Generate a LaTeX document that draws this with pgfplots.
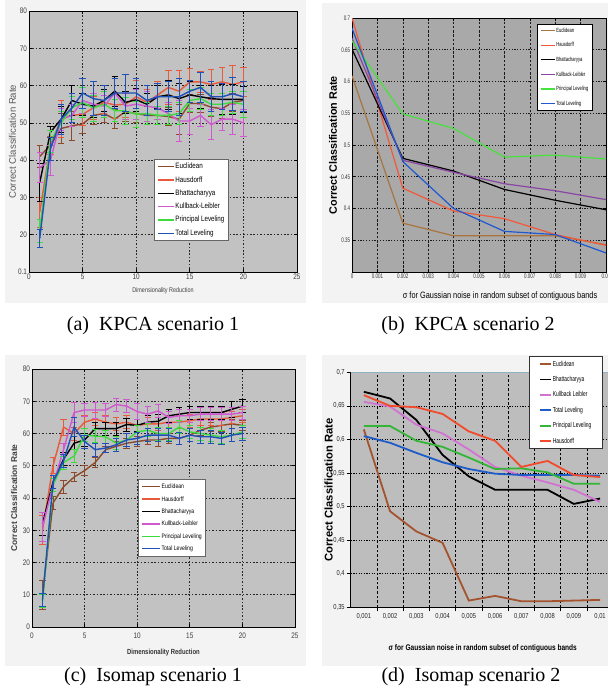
\documentclass[border=0pt]{standalone}
\usepackage{pgfplots}
\pgfplotsset{compat=1.18}
\usepackage{fontspec}
\setmainfont{Liberation Serif}
\setsansfont{Liberation Sans}
\newfontfamily\narrow[FakeStretch=0.8]{Liberation Sans}
\newfontfamily\narrowc[FakeStretch=0.68]{Liberation Sans}

\definecolor{figbg}{HTML}{F3F3F3}
\definecolor{plotA}{HTML}{C2C2C2}
\definecolor{plotB}{HTML}{A9A9A9}
\definecolor{plotD}{HTML}{BDBDBD}
% matlab panels
\definecolor{mEuc}{HTML}{8B4A2B}
\definecolor{mHau}{HTML}{E85A3C}
\definecolor{mKL}{HTML}{D058D0}
\definecolor{mPL}{HTML}{3EDB3E}
\definecolor{mTL}{HTML}{1E50B8}
% panel b
\definecolor{bEuc}{HTML}{A87440}
\definecolor{bHau}{HTML}{F2583A}
\definecolor{bKL}{HTML}{8A46A4}
\definecolor{bPL}{HTML}{46E23E}
\definecolor{bTL}{HTML}{2058D2}
% excel panel
\definecolor{xEuc}{HTML}{A3542E}
\definecolor{xKL}{HTML}{D272D2}
\definecolor{xTL}{HTML}{1F5CC8}
\definecolor{xPL}{HTML}{35B535}
\definecolor{xHau}{HTML}{F24A2C}

\pgfplotsset{
  panel/.style={scale only axis, anchor=south west,
    tick style={black, line width=0.3pt}, major tick length=1.5pt,
    axis line style={black, line width=0.4pt},
    legend cell align=left,
    legend style={draw=black!60, fill=white, inner sep=1.5pt,
      nodes={inner sep=0.4pt, text height=2.8pt, text depth=0.8pt}}},
  leg/.style n args={3}{legend image code/.code={\draw[##1, mark=none] (0pt,0pt) -- (#1,0pt);},
    legend style={at={(axis description cs:#2)}, anchor=north west, #3}},
  eb/.style={error bars/y dir=both, error bars/y explicit,
    error bars/error bar style={line width=0.4pt},
    error bars/error mark options={line width=0.4pt, mark size=1.6pt, rotate=90}},
}

\begin{document}
\begin{tikzpicture}
% light figure backgrounds
\fill[figbg] (2.5pt,194.5pt) rectangle (153pt,346pt);
\fill[figbg] (161pt,194.5pt) rectangle (304pt,344.5pt);
\fill[figbg] (2.5pt,13pt) rectangle (153pt,168.5pt);
\fill[figbg] (161pt,13pt) rectangle (304pt,168.5pt);

% (a) KPCA scenario 1
\begin{axis}[panel, at={(14.5pt,210pt)}, width=134pt, height=130.5pt,
  xmin=0, xmax=25, ymin=10, ymax=80,
  xtick={0,5,10,15,20,25}, xticklabels={0,5,10,15,20,25},
  ytick={10,20,30,40,50,60,70,80}, yticklabels={0.1,20,30,40,50,60,70,80},
  axis background/.style={fill=plotA},
  grid=major, grid style={black!85, line width=0.3pt, dash pattern=on 0.8pt off 0.9pt},
  tick align=inside,
  tick label style={font=\fontsize{4}{4.5}\narrow, text=black!75, inner sep=0.8pt},
  xlabel={Dimensionality Reduction},
  xlabel style={at={(axis description cs:0.5,-0.073)}, anchor=center, font=\fontsize{3.4}{4}\narrow, text=black!75},
  ylabel={Correct Classification Rate},
  ylabel style={at={(axis description cs:-0.062,0.5)}, anchor=center, font=\fontsize{4.8}{5}\sffamily, text=black!65},
  leg={8pt}{0.466,0.433}{font=\fontsize{3.9}{4.2}\narrow, row sep=2.25pt},
]
\addplot[mEuc, line width=0.7pt, eb] coordinates {
  (1,41)+-(0,3) (2,44)+-(0,2) (3,48.5)+-(0,4) (4,49.2)+-(0,4) (5,49.7)+-(0,2.5)
  (6,52)+-(0,2.5) (7,52.5)+-(0,2.5) (8,51)+-(0,2.5) (9,53)+-(0,2.5) (10,52.5)+-(0,2.5)
  (11,52)+-(0,2.5) (12,52)+-(0,2.5) (13,51.7)+-(0,2.5) (14,51)+-(0,4) (15,55.2)+-(0,2.5)
  (16,55.2)+-(0,2.5) (17,54.2)+-(0,2.5) (18,53.8)+-(0,2.5) (19,55.5)+-(0,2.5) (20,56)+-(0,2.5)};
\addlegendentry{Euclidean}
\addplot[mHau, line width=0.7pt, eb] coordinates {
  (1,26)+-(0,4) (2,44)+-(0,2.5) (3,51)+-(0,5) (4,52)+-(0,3) (5,52.3)+-(0,3)
  (6,54)+-(0,3) (7,55.5)+-(0,3) (8,54.8)+-(0,3.5) (9,55)+-(0,3.5) (10,57)+-(0,4.5)
  (11,55.5)+-(0,3.5) (12,57.5)+-(0,3.5) (13,59.5)+-(0,4.5) (14,58.5)+-(0,5.5) (15,61)+-(0,3.5)
  (16,61)+-(0,2.7) (17,60.3)+-(0,4) (18,61)+-(0,4) (19,60.3)+-(0,5) (20,61)+-(0,4)};
\addlegendentry{Hausdorff}
\addplot[black, line width=0.7pt, eb] coordinates {
  (1,34)+-(0,5) (2,47.5)+-(0,1.5) (3,51)+-(0,3.5) (4,56)+-(0,4) (5,55)+-(0,3)
  (6,54.5)+-(0,3) (7,56)+-(0,3) (8,58.5)+-(0,4) (9,55.5)+-(0,3) (10,56.2)+-(0,3)
  (11,55)+-(0,3) (12,57)+-(0,3) (13,57.5)+-(0,4) (14,56.5)+-(0,4) (15,57.5)+-(0,3.5)
  (16,57)+-(0,3) (17,56.5)+-(0,3.5) (18,56.3)+-(0,4) (19,56.3)+-(0,4) (20,56.3)+-(0,3.5)};
\addlegendentry{Bhattacharyya}
\addplot[mKL, line width=0.7pt, eb] coordinates {
  (1,38)+-(0,4) (2,40)+-(0,4) (3,51)+-(0,3) (4,52)+-(0,3) (5,56)+-(0,3.5)
  (6,55)+-(0,3) (7,54.5)+-(0,3) (8,58)+-(0,4) (9,54.5)+-(0,3.5) (10,55)+-(0,4)
  (11,54.5)+-(0,4) (12,54)+-(0,3) (13,52.5)+-(0,3) (14,50.5)+-(0,5.5) (15,50.5)+-(0,3.5)
  (16,52)+-(0,3) (17,49.5)+-(0,4) (18,51)+-(0,3) (19,51)+-(0,4) (20,50)+-(0,3.5)};
\addlegendentry{Kullback-Leibler}
\addplot[mPL, line width=0.7pt, eb] coordinates {
  (1,21)+-(0,3) (2,45)+-(0,3) (3,50)+-(0,3) (4,54)+-(0,3) (5,55.5)+-(0,4)
  (6,54)+-(0,3.5) (7,55)+-(0,3.5) (8,53.3)+-(0,3) (9,53.2)+-(0,3.5) (10,52.3)+-(0,3.5)
  (11,52.5)+-(0,3) (12,52)+-(0,2.5) (13,52)+-(0,2.5) (14,52.5)+-(0,3) (15,56)+-(0,3)
  (16,56.5)+-(0,3) (17,55)+-(0,3) (18,55)+-(0,3) (19,55.5)+-(0,3) (20,55)+-(0,3.5)};
\addlegendentry{Principal Leveling}
\addplot[mTL, line width=0.7pt, eb] coordinates {
  (1,19)+-(0,2.5) (2,43)+-(0,3) (3,51)+-(0,4) (4,54)+-(0,4) (5,58)+-(0,4)
  (6,56.5)+-(0,4.5) (7,56)+-(0,4) (8,58)+-(0,4) (9,58)+-(0,5) (10,58)+-(0,4)
  (11,56)+-(0,4) (12,57)+-(0,3.5) (13,57)+-(0,4) (14,57)+-(0,5) (15,58.5)+-(0,3)
  (16,59.5)+-(0,4) (17,57)+-(0,4) (18,57)+-(0,3.5) (19,57.8)+-(0,4.5) (20,57)+-(0,4)};
\addlegendentry{Total Leveling}
\end{axis}

% (b) KPCA scenario 2
\begin{axis}[panel, at={(176pt,210pt)}, width=127pt, height=127pt,
  xmin=0, xmax=0.01, ymin=0.3, ymax=0.7, scaled x ticks=false, scaled y ticks=false,
  xtick={0,0.001,0.002,0.003,0.004,0.005,0.006,0.007,0.008,0.009,0.01},
  xticklabels={0,0.001,0.002,0.003,0.004,0.005,0.006,0.007,0.008,0.009,0.01},
  ytick={0.35,0.4,0.45,0.5,0.55,0.6,0.65,0.7},
  yticklabels={0.35,0.4,0.45,0.5,0.55,0.6,0.65,0.7},
  axis background/.style={fill=plotB},
  grid=major,
  x grid style={black!90, line width=0.3pt, dash pattern=on 1.2pt off 0.9pt},
  y grid style={black!90, line width=0.3pt, dash pattern=on 0.6pt off 0.8pt},
  tick align=inside,
  tick label style={font=\fontsize{3.3}{4}\narrowc, text=black!80, inner sep=0.8pt},
  xlabel={σ for Gaussian noise in random subset of contiguous bands},
  xlabel style={at={(axis description cs:0.583,-0.094)}, anchor=center, font=\fontsize{4.6}{5}\narrow},
  ylabel={Correct Classification Rate},
  ylabel style={at={(axis description cs:-0.075,0.5)}, anchor=center, font=\fontsize{5.4}{6}\sffamily\bfseries},
  leg={7pt}{0.728,0.978}{font=\fontsize{3}{3.5}\narrowc, row sep=3.6pt, draw=black,
    nodes={text height=2.3pt, text depth=0.6pt}},
]
\addplot[bEuc, line width=0.6pt] coordinates {
  (0,0.609) (0.002,0.377) (0.004,0.357) (0.006,0.357) (0.008,0.357) (0.01,0.343)};
\addlegendentry{Euclidean}
\addplot[bHau, line width=0.6pt] coordinates {
  (0,0.700) (0.002,0.432) (0.004,0.396) (0.006,0.384) (0.008,0.359) (0.01,0.342)};
\addlegendentry{Hausdorff}
\addplot[black, line width=0.6pt] coordinates {
  (0,0.651) (0.002,0.479) (0.004,0.459) (0.006,0.430) (0.008,0.413) (0.01,0.398)};
\addlegendentry{Bhattacharyya}
\addplot[bKL, line width=0.6pt] coordinates {
  (0,0.668) (0.002,0.476) (0.004,0.457) (0.006,0.439) (0.008,0.428) (0.01,0.414)};
\addlegendentry{Kullback-Leibler}
\addplot[bPL, line width=0.6pt] coordinates {
  (0,0.664) (0.002,0.549) (0.004,0.526) (0.006,0.481) (0.008,0.484) (0.01,0.478)};
\addlegendentry{Principal Leveling}
\addplot[bTL, line width=0.6pt] coordinates {
  (0,0.684) (0.002,0.474) (0.004,0.400) (0.006,0.364) (0.008,0.359) (0.01,0.330)};
\addlegendentry{Total Leveling}
\end{axis}

% (c) Isomap scenario 1
\begin{axis}[panel, at={(16pt,32.5pt)}, width=131.5pt, height=129pt,
  xmin=0, xmax=25, ymin=0, ymax=80,
  xtick={0,5,10,15,20,25}, xticklabels={0,5,10,15,20,25},
  ytick={0,10,20,30,40,50,60,70,80}, yticklabels={0,10,20,30,40,50,60,70,80},
  axis background/.style={fill=plotA},
  grid=major, grid style={black!85, line width=0.3pt, dash pattern=on 0.8pt off 0.9pt},
  tick align=inside,
  tick label style={font=\fontsize{4}{4.5}\narrow, text=black!75, inner sep=0.8pt},
  xticklabel style={yshift=-2pt},
  xlabel={Dimensionality Reduction},
  xlabel style={at={(axis description cs:0.5,-0.1)}, anchor=center, font=\fontsize{3.7}{4}\narrow\bfseries, text=black!80},
  ylabel={Correct Classification Rate},
  ylabel style={at={(axis description cs:-0.068,0.5)}, anchor=center, font=\fontsize{4.2}{5}\sffamily\bfseries, text=black!75},
  leg={9pt}{0.403,0.574}{font=\fontsize{3.2}{3.6}\narrow, row sep=1.8pt},
]
\addplot[mEuc, line width=0.7pt, eb] coordinates {
  (1,10)+-(0,4.5) (2,38.5)+-(0,2) (3,43.5)+-(0,2) (4,46.5)+-(0,1.5) (5,48.5)+-(0,1.5)
  (6,51)+-(0,1.5) (7,55)+-(0,1) (8,56)+-(0,1.5) (9,57)+-(0,1.5) (10,57.5)+-(0,1.5)
  (11,58)+-(0,1.5) (12,58)+-(0,2) (13,58.5)+-(0,1.5) (14,58.5)+-(0,2) (15,59.5)+-(0,2)
  (16,61)+-(0,1.5) (17,62)+-(0,1.5) (18,62.5)+-(0,2) (19,63)+-(0,1.5) (20,62.5)+-(0,1.5)};
\addlegendentry{Euclidean}
\addplot[mHau, line width=0.7pt, eb] coordinates {
  (1,30)+-(0,4.5) (2,50)+-(0,2.5) (3,62)+-(0,2.5) (4,60)+-(0,2) (5,63.5)+-(0,2)
  (6,64.5)+-(0,2) (7,63.5)+-(0,2) (8,63)+-(0,2) (9,63.5)+-(0,2) (10,62.5)+-(0,2)
  (11,63)+-(0,2) (12,63)+-(0,2) (13,63.5)+-(0,2) (14,63.5)+-(0,2) (15,64)+-(0,2)
  (16,64.5)+-(0,2) (17,64.5)+-(0,2) (18,64.5)+-(0,2) (19,65)+-(0,2) (20,65.5)+-(0,2)};
\addlegendentry{Hausdorff}
\addplot[black, line width=0.7pt, eb] coordinates {
  (1,32)+-(0,3.5) (2,45)+-(0,2) (3,52)+-(0,2) (4,57)+-(0,2) (5,58)+-(0,2)
  (6,61.5)+-(0,2) (7,61.5)+-(0,2) (8,61.5)+-(0,2) (9,62.8)+-(0,2) (10,62.5)+-(0,2)
  (11,63.5)+-(0,2) (12,63.8)+-(0,2) (13,65.5)+-(0,2) (14,66)+-(0,2) (15,66.5)+-(0,2)
  (16,66.5)+-(0,2) (17,66.5)+-(0,2) (18,66.5)+-(0,2) (19,67.5)+-(0,2.5) (20,68.5)+-(0,2)};
\addlegendentry{Bhattacharyya}
\addplot[mKL, line width=0.7pt, eb] coordinates {
  (1,31)+-(0,4.5) (2,44)+-(0,2) (3,55)+-(0,2) (4,66.5)+-(0,3) (5,67.3)+-(0,2)
  (6,67.3)+-(0,2.5) (7,67.3)+-(0,2) (8,69)+-(0,2) (9,68.5)+-(0,2) (10,66.8)+-(0,2.5)
  (11,66)+-(0,2.5) (12,67)+-(0,2) (13,65)+-(0,2) (14,65.5)+-(0,2) (15,65.5)+-(0,2)
  (16,66)+-(0,2) (17,66)+-(0,2) (18,66)+-(0,2) (19,66)+-(0,2) (20,66.5)+-(0,2)};
\addlegendentry{Kullback-Leibler}
\addplot[mPL, line width=0.7pt, eb] coordinates {
  (1,8)+-(0,2) (2,44)+-(0,2) (3,51)+-(0,2) (4,53)+-(0,2) (5,59.5)+-(0,2)
  (6,59.2)+-(0,2) (7,59)+-(0,2) (8,57)+-(0,2) (9,58)+-(0,2) (10,60.5)+-(0,2)
  (11,61)+-(0,2) (12,60)+-(0,2) (13,60)+-(0,2) (14,62)+-(0,2) (15,60.5)+-(0,2)
  (16,60)+-(0,2) (17,59.5)+-(0,2) (18,59)+-(0,2) (19,59.5)+-(0,2) (20,60.5)+-(0,2)};
\addlegendentry{Principal Leveling}
\addplot[mTL, line width=0.7pt, eb] coordinates {
  (1,8.5)+-(0,2) (2,45)+-(0,2) (3,51.5)+-(0,2) (4,62)+-(0,3) (5,57.5)+-(0,2)
  (6,55)+-(0,2) (7,55.5)+-(0,1.5) (8,56.5)+-(0,2) (9,58)+-(0,2) (10,58.5)+-(0,2)
  (11,59.5)+-(0,2) (12,59.5)+-(0,2) (13,59.5)+-(0,2) (14,58.5)+-(0,2) (15,59.5)+-(0,2)
  (16,59)+-(0,2) (17,59)+-(0,2) (18,58.5)+-(0,2) (19,59.5)+-(0,2) (20,60)+-(0,2)};
\addlegendentry{Total Leveling}
\end{axis}

% (d) Isomap scenario 2
\begin{axis}[panel, at={(175.35pt,42.35pt)}, width=131.25pt, height=117.5pt,
  xmin=0.5, xmax=10.5, ymin=0.35, ymax=0.7,
  axis x line*=bottom, axis y line*=left, axis line style={-},
  axis background/.style={fill=plotD},
  xtick={1.5,2.5,3.5,4.5,5.5,6.5,7.5,8.5,9.5}, xticklabels={},
  xmajorgrids, x grid style={black, line width=0.3pt, dash pattern=on 1.3pt off 1pt},
  extra x ticks={1,2,3,4,5,6,7,8,9,10},
  extra x tick labels={{0,001},{0,002},{0,003},{0,004},{0,005},{0,006},{0,007},{0,008},{0,009},{0,01}},
  extra x tick style={grid=none, major tick length=0pt},
  ytick={0.35,0.4,0.45,0.5,0.55,0.6,0.65,0.7},
  yticklabels={{0,35},{0,4},{0,45},{0,5},{0,55},{0,6},{0,65},{0,7}},
  ymajorgrids, y grid style={black, line width=0.35pt, dash pattern=on 0.6pt off 0.7pt},
  tick align=outside, major tick length=2pt,
  tick label style={font=\fontsize{3.6}{4}\narrow, text=black!85, inner sep=0.8pt},
  xticklabel style={yshift=-2pt},
  xlabel={σ for Gaussian noise in random subset of contiguous bands},
  xlabel style={at={(axis description cs:0.503,-0.174)}, anchor=center, font=\fontsize{4.1}{5}\narrow\bfseries},
  ylabel={Correct Classification Rate},
  ylabel style={at={(axis description cs:-0.084,0.5)}, anchor=center, font=\fontsize{5.6}{6}\sffamily\bfseries},
  leg={5.5pt}{0.679,1.069}{font=\fontsize{3.6}{4}\narrowc, row sep=3.3pt, draw=black!80,
    inner xsep=5pt, inner ysep=1.6pt},
]
\draw[cyan!35!gray!80, line width=0.5pt] (rel axis cs:0,1) -- (rel axis cs:1,1);
\addplot[xEuc, line width=0.9pt] coordinates {
  (1,0.615) (2,0.493) (3,0.463) (4,0.446) (5,0.360) (6,0.367) (7,0.359) (8,0.359) (9,0.360) (10,0.361)};
\addlegendentry{Euclidean}
\addplot[black, line width=0.9pt] coordinates {
  (1,0.671) (2,0.661) (3,0.629) (4,0.577) (5,0.545) (6,0.525) (7,0.525) (8,0.525) (9,0.504) (10,0.512)};
\addlegendentry{Bhattacharyya}
\addplot[xKL, line width=0.9pt] coordinates {
  (1,0.656) (2,0.649) (3,0.622) (4,0.609) (5,0.585) (6,0.559) (7,0.546) (8,0.536) (9,0.525) (10,0.507)};
\addlegendentry{Kullback Leibler}
\addplot[xTL, line width=0.9pt] coordinates {
  (1,0.605) (2,0.595) (3,0.580) (4,0.566) (5,0.556) (6,0.549) (7,0.547) (8,0.547) (9,0.547) (10,0.546)};
\addlegendentry{Total Leveling}
\addplot[xPL, line width=0.9pt] coordinates {
  (1,0.620) (2,0.620) (3,0.598) (4,0.589) (5,0.573) (6,0.556) (7,0.557) (8,0.551) (9,0.534) (10,0.534)};
\addlegendentry{Principal Leveling}
\addplot[xHau, line width=0.9pt] coordinates {
  (1,0.666) (2,0.650) (3,0.648) (4,0.638) (5,0.612) (6,0.598) (7,0.559) (8,0.568) (9,0.547) (10,0.544)};
\addlegendentry{Hausdorff}
\end{axis}

% sub-captions
\node[font=\fontsize{10}{12}\selectfont, inner sep=0pt] at (76.5pt,183pt) {(a)\enspace KPCA scenario 1};
\node[font=\fontsize{10}{12}\selectfont, inner sep=0pt] at (234pt,183pt) {(b)\enspace KPCA scenario 2};
\node[font=\fontsize{10}{12}\selectfont, inner sep=0pt] at (76.5pt,7.5pt) {(c)\enspace Isomap scenario 1};
\node[font=\fontsize{10}{12}\selectfont, inner sep=0pt] at (235.5pt,7.5pt) {(d)\enspace Isomap scenario 2};

\pgfresetboundingbox
\path[use as bounding box] (0pt,0pt) rectangle (304pt,346pt);
\end{tikzpicture}
\end{document}
